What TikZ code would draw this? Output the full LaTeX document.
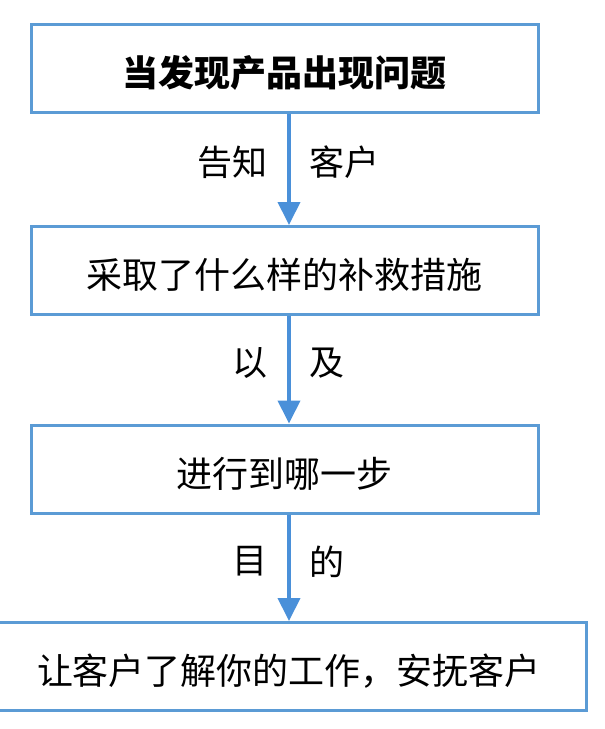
\documentclass[tikz,border=0pt]{standalone}
\usepackage{fontspec}
\setmainfont{Noto Sans CJK SC}
\usepackage{xcolor}
\definecolor{flow-line}{HTML}{5B9BD5}
\definecolor{flow-arrow}{HTML}{4A90D9}
\usetikzlibrary{arrows.meta}

\begin{document}
\begin{tikzpicture}[x=1pt, y=1pt,
    box/.style={draw=flow-line, line width=3pt, minimum height=88pt, inner sep=0pt,
        text height=40pt, text depth=4pt, font=\fontsize{36}{40}\selectfont},
    flow/.style={draw=flow-arrow, line width=4pt, -{Triangle[width=22pt, length=23pt]}},
    tag/.style={font=\fontsize{35}{40}\selectfont, inner sep=0pt, pos=0.44}]

    % Frame
    \useasboundingbox (0, 0) rectangle (605, -729);

    % Boxes
    \node[box, minimum width=507pt, font=\fontsize{36}{40}\selectfont\bfseries] (issue) at (284.5, -68) {当发现产品出现问题};
    \node[box, minimum width=507pt] (remedy) at (284.5, -270.5) {采取了什么样的补救措施};
    \node[box, minimum width=507pt] (progress) at (284.5, -469) {进行到哪一步};
    \node[box, minimum width=594pt] (goal) at (289, -666.5) {让客户了解你的工作，安抚客户};

    % Arrows
    \draw[flow] ([xshift=4.5pt]issue.south) --
        node[tag, left=20pt] {告知} node[tag, right=18pt] {客户} ([xshift=4.5pt]remedy.north);
    \draw[flow] ([xshift=4.5pt]remedy.south) --
        node[tag, left=20pt] {以} node[tag, right=18pt] {及} ([xshift=4.5pt]progress.north);
    \draw[flow] ([xshift=4.5pt]progress.south) --
        node[tag, left=20pt] {目} node[tag, right=18pt] {的} (goal.north);

\end{tikzpicture}
\end{document}
